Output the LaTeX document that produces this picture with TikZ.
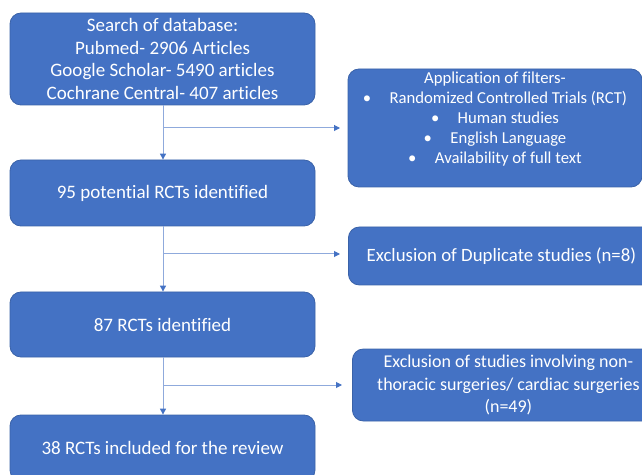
\documentclass[tikz,border=0pt]{standalone}
\usepackage{fontspec}
\setmainfont{Carlito}[Ligatures=NoCommon]
\usetikzlibrary{arrows.meta}
\definecolor{boxfill}{HTML}{4472C4}
\definecolor{boxline}{HTML}{3A62A8}
\definecolor{conn}{HTML}{8FAADC}
\definecolor{tipc}{HTML}{4472C4}
\tikzset{
  box/.style={draw=boxline, line width=0.8pt, fill=boxfill, rounded corners=11pt,
    text=white, align=center, inner sep=2pt, font=\fontsize{19}{22.5}\selectfont},
  link/.style={draw=conn, line width=1pt, -{Triangle[length=6pt,width=6pt,fill=tipc,color=tipc]}},
}
\newcommand{\bul}[1]{\textbullet\hspace{1.1em}#1}
\begin{document}
\begin{tikzpicture}[x=1pt,y=1pt]
\useasboundingbox (0,0) rectangle (642,474);
\begin{scope}
\clip (0,0) rectangle (642,474);
\node[box, minimum width=305pt, minimum height=92pt] (s) at (162.5,415) {Search of database:\\Pubmed- 2906 Articles\\Google Scholar- 5490 articles\\Cochrane Central- 407 articles};
\node[box, minimum width=305pt, minimum height=66pt] (p) at (162.5,281) {95 potential RCTs identified};
\node[box, minimum width=305pt, minimum height=65pt] (i) at (162.5,149.5) {87 RCTs identified};
\node[box, minimum width=305pt, minimum height=66pt] (r) at (162.5,26) {38 RCTs included for the review};
\node[box, minimum width=294pt, minimum height=118pt, font=\fontsize{16.7}{20}\selectfont] (f) at (495,346)
  {Application of filters-\\\bul{Randomized Controlled Trials (RCT)}\\\bul{Human studies}\\\bul{English Language}\\\bul{Availability of full text}\\\mbox{}};
\node[box, minimum width=306pt, minimum height=58pt, anchor=west, font=\fontsize{18.8}{22.5}\selectfont] (d) at (348,218) {Exclusion of Duplicate studies (n=8)};
\node[box, minimum width=312pt, minimum height=72pt, anchor=west, font=\fontsize{18}{22.5}\selectfont] (e) at (352,89) {Exclusion of studies involving non-\\thoracic surgeries/ cardiac surgeries\\(n=49)};
\end{scope}
\coordinate (b1) at (163,346);
\coordinate (b2) at (163,220);
\coordinate (b3) at (163,89);
\draw[link] (s.south -| b1) -- (p.north -| b1);
\draw[link] (b1) -- (340,346);
\draw[link] (p.south -| b2) -- (i.north -| b2);
\draw[link] (b2) -- (340,220);
\draw[link] (i.south -| b3) -- (r.north -| b3);
\draw[link] (b3) -- (342,89);
\end{tikzpicture}
\end{document}
